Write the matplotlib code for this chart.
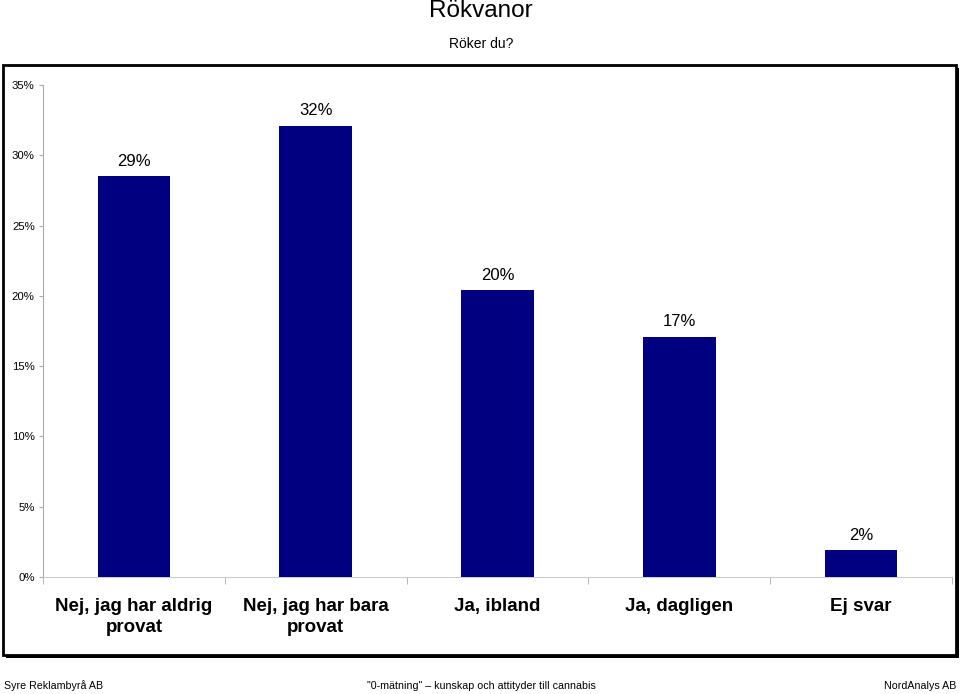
import matplotlib
matplotlib.use("Agg")
import matplotlib.pyplot as plt
from matplotlib.patches import Rectangle
import numpy as np

plt.rcParams['font.family'] = ['Liberation Sans', 'DejaVu Sans']

categories = ["Nej, jag har aldrig\nprovat", "Nej, jag har bara\nprovat", "Ja, ibland", "Ja, dagligen", "Ej svar"]
values = [28.5, 32.1, 20.4, 17.1, 1.9]
value_labels = ["29%", "32%", "20%", "17%", "2%"]
yticks = [0, 5, 10, 15, 20, 25, 30, 35]
ytick_labels = ["0%", "5%", "10%", "15%", "20%", "25%", "30%", "35%"]

W, H = 960, 694
fig = plt.figure(figsize=(W/100, H/100), dpi=100)

# frame with shadow
fig.patches.append(Rectangle((6/W, 1-658/H), 953/W, 590/H, transform=fig.transFigure,
                             facecolor='black', edgecolor='none', zorder=0))
fig.patches.append(Rectangle((3/W, 1-655/H), 953/W, 590/H, transform=fig.transFigure,
                             facecolor='white', edgecolor='black', linewidth=2, zorder=1))

ax = fig.add_axes([43/W, 1-577/H, (952-43)/W, (577-85)/H])
ax.set_zorder(2)
ax.patch.set_alpha(0)
x = np.arange(len(categories))
ax.bar(x, values, width=0.4, color='#000080', zorder=3)
for xi, v, lab in zip(x, values, value_labels):
    ax.text(xi, v + 0.55, lab, ha='center', va='bottom', fontsize=12)

ax.set_xlim(-0.5, len(categories) - 0.5)
ax.set_ylim(0, 35)
ax.set_yticks(yticks)
ax.set_yticklabels(ytick_labels, fontsize=8.2)
ax.set_xticks(x)
ax.set_xticklabels(categories, fontsize=13.5, fontweight='bold', linespacing=1.35)
ax.set_xticks(np.arange(len(categories) + 1) - 0.5, minor=True)
ax.tick_params(axis='x', which='major', length=0, pad=15)
ax.tick_params(axis='x', which='minor', length=5, color='#aaaaaa', direction='out')
ax.tick_params(axis='y', length=3, color='#aaaaaa', pad=3)
for s in ['top', 'right']:
    ax.spines[s].set_visible(False)
ax.spines['left'].set_color('#aaaaaa')
ax.spines['bottom'].set_color('#cccccc')

fig.text(481/W, 1-11/H, "Rökvanor", ha='center', va='center', fontsize=17.5)
fig.text(481/W, 1-44/H, "Röker du?", ha='center', va='center', fontsize=10)
fig.text(4/W, 1-686/H, "Syre Reklambyrå AB", ha='left', va='center', fontsize=7.7)
fig.text(481/W, 1-686/H, "\"0-mätning\" – kunskap och attityder till cannabis", ha='center', va='center', fontsize=7.7)
fig.text(956/W, 1-686/H, "NordAnalys AB", ha='right', va='center', fontsize=7.7)

fig.savefig("out.png", dpi=100)
